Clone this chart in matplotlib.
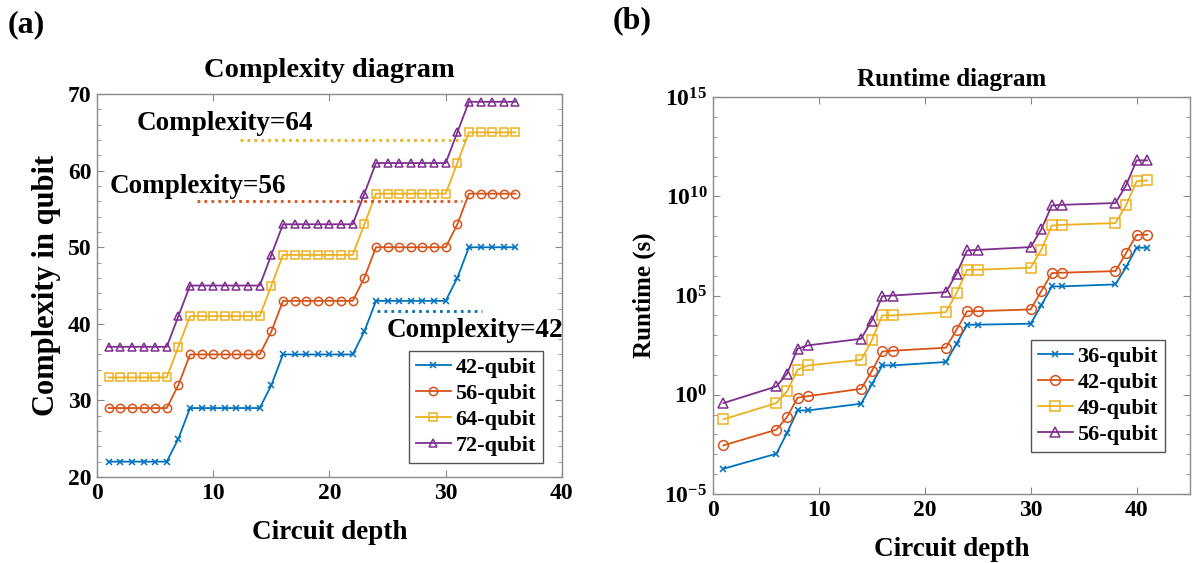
import math
import matplotlib.pyplot as plt
from matplotlib.ticker import FixedLocator, FuncFormatter, MultipleLocator, NullFormatter

plt.rcParams['font.family'] = ['Liberation Serif', 'DejaVu Serif']
plt.rcParams['font.weight'] = 'bold'
plt.rcParams['mathtext.fontset'] = 'custom'
plt.rcParams['mathtext.bf'] = 'Liberation Serif:bold'
plt.rcParams['mathtext.rm'] = 'Liberation Serif:bold'

colors = ['#0072BD', '#D95319', '#EDB120', '#7E2F8E']
markers = ['x', 'o', 's', '^']

# (a) complexity diagram
depth_a = list(range(1, 37))
labels_a = ['42-qubit', '56-qubit', '64-qubit', '72-qubit']
complexity_42 = [22] * 6 + [25] + [29] * 7 + [32] + [36] * 7 + [39] + [43] * 7 + [46] + [50] * 5
complexity_56 = [29] * 6 + [32] + [36] * 7 + [39] + [43] * 7 + [46] + [50] * 7 + [53] + [57] * 5
complexity_64 = [33] * 6 + [37] + [41] * 7 + [45] + [49] * 7 + [53] + [57] * 7 + [61] + [65] * 5
complexity_72 = [37] * 6 + [41] + [45] * 7 + [49] + [53] * 7 + [57] + [61] * 7 + [65] + [69] * 5
series_a = [complexity_42, complexity_56, complexity_64, complexity_72]

# reference levels (dotted lines) and their labels
ref_levels = [64, 56, 41.7]
ref_start = [12.3, 8.6, 24.1]
ref_end = [31.8, 31.4, 33.1]
ref_colors = ['#EDB120', '#D95319', '#0072BD']
ref_texts = ['Complexity=64', 'Complexity=56', 'Complexity=42']
ref_text_pos = [(3.4, 65.3), (1.1, 57.1), (24.9, 38.3)]

# (b) runtime diagram (log10 of seconds)
depth_b = [1, 6, 7, 8, 9, 14, 15, 16, 17, 22, 23, 24, 25, 30, 31, 32, 33, 38, 39, 40, 41]
labels_b = ['36-qubit', '42-qubit', '49-qubit', '56-qubit']
log_rt_36 = [-3.73, -2.97, -1.93, -0.79, -0.79, -0.45, 0.52, 1.48, 1.48, 1.65, 2.57,
             3.53, 3.53, 3.58, 4.50, 5.46, 5.46, 5.56, 6.43, 7.41, 7.41]
log_rt_42 = [-2.55, -1.76, -1.13, -0.15, -0.07, 0.30, 1.19, 2.18, 2.22, 2.37, 3.27,
             4.21, 4.21, 4.30, 5.22, 6.13, 6.15, 6.23, 7.14, 8.06, 8.06]
log_rt_49 = [-1.24, -0.42, 0.17, 1.26, 1.48, 1.76, 2.74, 4.00, 4.00, 4.16, 5.12,
             6.30, 6.30, 6.40, 7.30, 8.53, 8.56, 8.65, 9.54, 10.76, 10.80]
log_rt_56 = [-0.42, 0.42, 1.06, 2.32, 2.49, 2.82, 3.74, 4.97, 5.00, 5.17, 6.10,
             7.27, 7.30, 7.44, 8.33, 9.54, 9.57, 9.66, 10.55, 11.81, 11.81]
series_b = [log_rt_36, log_rt_42, log_rt_49, log_rt_56]

fig = plt.figure(figsize=(11.92, 5.63), dpi=100)
ax1 = fig.add_axes([0.0814, 0.1528, 0.390, 0.680])
ax2 = fig.add_axes([0.598, 0.1226, 0.400, 0.705])


def style_axes(ax, size):
    for sp in ax.spines.values():
        sp.set_color('#8a8a8a')
        sp.set_linewidth(1.0)
    ax.tick_params(which='both', direction='in', top=True, right=True,
                   color='#8a8a8a', labelsize=size, pad=4)
    ax.tick_params(which='major', length=5)
    ax.tick_params(which='minor', length=3)
    ax.tick_params(axis='x', which='minor', bottom=False, top=False)
    for lab in ax.get_xticklabels() + ax.get_yticklabels():
        lab.set_fontweight('bold')


def style_legend(leg):
    leg.get_frame().set_edgecolor('#555555')
    leg.get_frame().set_linewidth(1.0)
    leg.get_frame().set_alpha(1)


for ys, c, m, lab in zip(series_a, colors, markers, labels_a):
    ax1.plot(depth_a, ys, color=c, marker=m, markersize=6 if m != 'x' else 5,
             markerfacecolor='none', markeredgewidth=1.1, linewidth=1.3, label=lab)

for lvl, x0, x1, c in zip(ref_levels, ref_start, ref_end, ref_colors):
    ax1.hlines(lvl, x0, x1, colors=c, linestyles=(0, (1, 1.5)), linewidth=2)
for txt, (tx, ty) in zip(ref_texts, ref_text_pos):
    ax1.text(tx, ty, txt, fontsize=19.5, fontweight='bold')

ax1.set_xlim(0, 40)
ax1.set_ylim(20, 70)
ax1.xaxis.set_major_locator(MultipleLocator(10))
ax1.yaxis.set_major_locator(MultipleLocator(10))
ax1.yaxis.set_minor_locator(MultipleLocator(2))
style_axes(ax1, 17)
ax1.set_title('Complexity diagram', fontsize=20.5, fontweight='bold', pad=12)
ax1.set_xlabel('Circuit depth', fontsize=19.5, fontweight='bold', labelpad=12)
ax1.set_ylabel('Complexity in qubit', fontsize=22, fontweight='bold')
ax1.yaxis.set_label_coords(-0.078, 0.5)
leg1 = ax1.legend(loc='lower right', fontsize=16, handlelength=1.6, handletextpad=0.2,
                  borderpad=0.3, labelspacing=0.25, fancybox=False,
                  bbox_to_anchor=(0.959, 0.037), borderaxespad=0)
style_legend(leg1)

for ys, c, m, lab in zip(series_b, colors, markers, labels_b):
    ax2.plot(depth_b, [10 ** v for v in ys], color=c, marker=m, markersize=7 if m != 'x' else 5,
             markerfacecolor='none', markeredgewidth=1.1, linewidth=1.3, label=lab)

ax2.set_yscale('log')
ax2.set_xlim(0, 45)
ax2.set_ylim(1e-5, 1e15)
ax2.xaxis.set_major_locator(MultipleLocator(10))
ax2.yaxis.set_major_locator(FixedLocator([10.0 ** k for k in (-5, 0, 5, 10, 15)]))
ax2.yaxis.set_minor_locator(FixedLocator([10.0 ** k for k in range(-5, 16) if k % 5]))
ax2.yaxis.set_minor_formatter(NullFormatter())
ax2.yaxis.set_major_formatter(FuncFormatter(lambda v, p: r'$\mathbf{10^{%d}}$' % round(math.log10(v))))
style_axes(ax2, 17)
ax2.set_title('Runtime diagram', fontsize=18, fontweight='bold', pad=8)
ax2.set_xlabel('Circuit depth', fontsize=19.5, fontweight='bold', labelpad=12)
ax2.set_ylabel('Runtime (s)', fontsize=18, fontweight='bold', labelpad=6)
leg2 = ax2.legend(loc='lower right', fontsize=16, handlelength=1.6, handletextpad=0.2,
                  borderpad=0.3, labelspacing=0.25, fancybox=False,
                  bbox_to_anchor=(0.948, 0.106), borderaxespad=0)
style_legend(leg2)

fig.text(0.006, 0.943, '(a)', fontsize=23, fontweight='bold')
fig.text(0.514, 0.950, '(b)', fontsize=23, fontweight='bold')

fig.savefig('out.png', dpi=100)
